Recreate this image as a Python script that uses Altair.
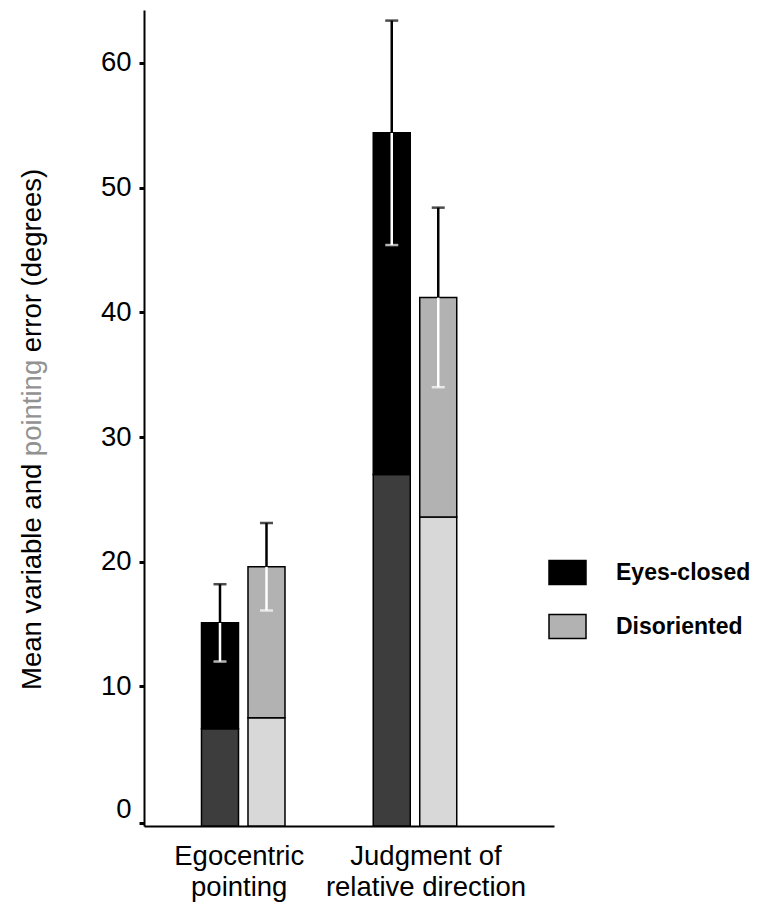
import altair as alt
import pandas as pd

# ---- data ----
tasks = ["Egocentric pointing", "Judgment of relative direction"]
task_lines = [["Egocentric", "pointing"], ["Judgment of", "relative direction"]]
conditions = ["Eyes-closed", "Disoriented"]
# values per task, ordered as conditions
pointing_error = [[15.1, 19.6], [54.4, 41.2]]   # total bar height (mean pointing error)
variable_error = [[6.6, 7.5], [27.0, 23.6]]     # lower textured part (mean variable error)
error_bar = [[3.1, 3.5], [9.0, 7.2]]            # +/- error bar half-length
y_tick_values = [0, 10, 20, 30, 40, 50, 60]

# ---- build table ----
rows = []
for ti, task in enumerate(tasks):
    for ci, cond in enumerate(conditions):
        p = pointing_error[ti][ci]
        e = error_bar[ti][ci]
        rows.append({"task": task, "condition": cond, "pointing": p,
                     "variable": variable_error[ti][ci], "lo": p - e, "hi": p + e})
df = pd.DataFrame(rows)

FONT = "Liberation Sans"
Y_MIN, Y_MAX = -1.19, 64.25
ZERO_TICK = -0.95
W, H = 410, 816

label_map = "{" + ", ".join(f"'{t}': {l}" for t, l in zip(tasks, task_lines)) + "}"

x_enc = alt.X("task:N", sort=tasks, title=None,
              scale=alt.Scale(domain=tasks, paddingInner=0.4178, paddingOuter=0.4025, align=0.3562),
              axis=alt.Axis(labelAngle=0, ticks=False, domainWidth=2, domainColor="black",
                            labelFont=FONT, labelFontSize=27.5, labelColor="black",
                            labelPadding=16, labelLineHeight=31, labelBaseline="top",
                            labelLimit=0,
                            labelOffset={"condition": {"test": f"datum.value == '{tasks[1]}'", "value": 11},
                                         "value": -4},
                            labelExpr=f"{label_map}[datum.value]"))
xo_enc = alt.XOffset("condition:N", sort=conditions,
                     scale=alt.Scale(domain=conditions, paddingInner=0.2043, paddingOuter=0.1774))
y_scale = alt.Scale(domain=[Y_MIN, Y_MAX], nice=False, zero=False)
y_axis = alt.Axis(values=[ZERO_TICK] + y_tick_values[1:], title=None, grid=False,
                  labelExpr="datum.value < 0 ? '0' : datum.label",
                  labelBaseline={"condition": {"test": "datum.value < 0", "value": "bottom"}, "value": "middle"},
                  labelFont=FONT, labelFontSize=27.5, labelColor="black", labelPadding=8,
                  tickSize=5, tickWidth=3, tickColor="black", domainWidth=2, domainColor="black")

base = alt.Chart(df)

lower = base.mark_bar(stroke="black", strokeWidth=1.5).encode(
    x=x_enc, xOffset=xo_enc,
    y=alt.Y("variable:Q", scale=y_scale, axis=y_axis),
    y2=alt.datum(Y_MIN),
    color=alt.Color("condition:N", sort=conditions,
                    scale=alt.Scale(domain=conditions, range=["#3d3d3d", "#d8d8d8"]), legend=None),
)

upper = base.mark_bar(stroke="black", strokeWidth=1.5).encode(
    x=x_enc, xOffset=xo_enc,
    y=alt.Y("pointing:Q", scale=y_scale, axis=y_axis),
    y2="variable:Q",
    color=alt.Color("condition:N", sort=conditions,
                    scale=alt.Scale(domain=conditions, range=["#000000", "#b2b2b2"]),
                    legend=alt.Legend(title=None, orient="none", legendX=404, legendY=543,
                                      symbolType="M-1,-0.65H1V0.65H-1Z", symbolSize=1369,
                                      symbolStrokeColor="black", symbolStrokeWidth=1.5,
                                      symbolOpacity=1, labelFont=FONT, labelFontSize=23,
                                      labelFontWeight="bold", labelColor="black", labelLimit=0,
                                      labelOffset=29, rowPadding=19, padding=0)),
)

stem_up = base.mark_rule(color="black", strokeWidth=2.5).encode(
    x=x_enc, xOffset=xo_enc,
    y=alt.Y("pointing:Q", scale=y_scale, axis=y_axis), y2="hi:Q")
stem_down = base.mark_rule(color="white", strokeWidth=2.5).encode(
    x=x_enc, xOffset=xo_enc,
    y=alt.Y("lo:Q", scale=y_scale, axis=y_axis), y2="pointing:Q")
cap_up = base.mark_tick(color="black", orient="horizontal", size=13, thickness=2.5).encode(
    x=x_enc, xOffset=xo_enc, y=alt.Y("hi:Q", scale=y_scale, axis=y_axis))
cap_down = base.mark_tick(color="white", orient="horizontal", size=13, thickness=2.5).encode(
    x=x_enc, xOffset=xo_enc, y=alt.Y("lo:Q", scale=y_scale, axis=y_axis))

# ---- y title with the gray word, placed as consecutive rotated segments ----
title_parts = ["Mean variable and", "pointing", "error (degrees)"]
title_colors = ["black", "#929292", "black"]
FS = 27.5
em_offsets = [0.0, 8.504, 8.504 + 3.502 + 0.278]   # Arial advance widths (em)
TITLE_BOTTOM = 680
title_layers = []
for txt, col, off in zip(title_parts, title_colors, em_offsets):
    title_layers.append(
        alt.Chart(pd.DataFrame({"t": [txt]})).mark_text(
            angle=270, align="left", baseline="middle", font=FONT, fontSize=FS, color=col
        ).encode(text="t:N", x=alt.value(-111), y=alt.value(TITLE_BOTTOM - off * FS))
    )

chart = alt.layer(lower, upper, stem_down, stem_up, cap_down, cap_up, *title_layers).resolve_scale(
    color="independent"
).resolve_legend(color="independent").properties(
    width=W, height=H,
    padding={"left": 136, "top": 2, "right": 200, "bottom": 80},
    autosize=alt.AutoSizeParams(type="none"),
    background="white",
).configure_view(strokeWidth=0)

chart.save("out.html", embed_options={"renderer": "svg", "actions": False})
